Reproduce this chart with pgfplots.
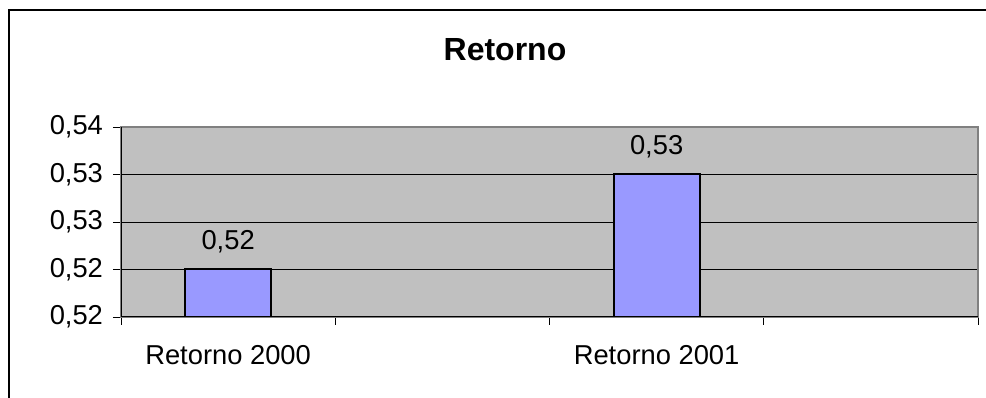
\documentclass[border=0pt]{standalone}
\usepackage{pgfplots}
\pgfplotsset{compat=1.18}
\usepackage{fontspec}
\setmainfont{Liberation Sans}
\definecolor{plotgray}{HTML}{C0C0C0}
\definecolor{bordergray}{HTML}{808080}
\definecolor{barblue}{HTML}{9999FF}
\begin{document}
\begin{tikzpicture}[x=0.75pt,y=0.75pt]
\useasboundingbox (0,0) rectangle (986,398);
\draw[line width=1.5pt] (9,0) -- (9,388) -- (986,388);
\node[font=\fontsize{24}{28}\selectfont\bfseries] at (505,348) {Retorno};
\begin{axis}[
  at={(121*0.75pt,81*0.75pt)}, anchor=south west,
  scale only axis, width=857*0.75pt, height=190*0.75pt,
  xmin=-0.5, xmax=3.5, ymin=0.515, ymax=0.535,
  axis background/.style={fill=plotgray},
  axis line style={bordergray, line width=1.5pt},
  ybar, bar width=86*0.75pt,
  ytick={0.515,0.52,0.525,0.53,0.535},
  yticklabels={\mbox{0,52},\mbox{0,52},\mbox{0,53},\mbox{0,53},\mbox{0,54}},
  xtick={-0.5,0.5,1.5,2.5,3.5},
  xticklabels={},
  extra x ticks={0,2},
  extra x tick labels={\mbox{Retorno 2000}, \mbox{Retorno 2001}},
  extra x tick style={major tick length=0pt, xticklabel style={yshift=-18pt}},
  tick pos=left, tick align=outside,
  major tick length=6pt,
  tick style={black, line width=0.6pt},
  ymajorgrids, grid style={black, line width=0.6pt},
  ticklabel style={font=\fontsize{20.5}{24}\selectfont},
  yticklabel style={xshift=-4pt},
  nodes near coords,
  nodes near coords style={font=\fontsize{20.5}{24}\selectfont, yshift=8pt,
    /pgf/number format/.cd, fixed, fixed zerofill, precision=2, use comma, assume math mode=true},
]
\addplot[fill=barblue, draw=black, line width=1.5pt] coordinates {(0,0.52) (2,0.53)};
\draw[black, line width=0.8pt] (rel axis cs:0,0) -- (rel axis cs:1,0);
\draw[black, line width=0.8pt] (rel axis cs:0,0) -- (rel axis cs:0,1);
\end{axis}
\end{tikzpicture}
\end{document}
